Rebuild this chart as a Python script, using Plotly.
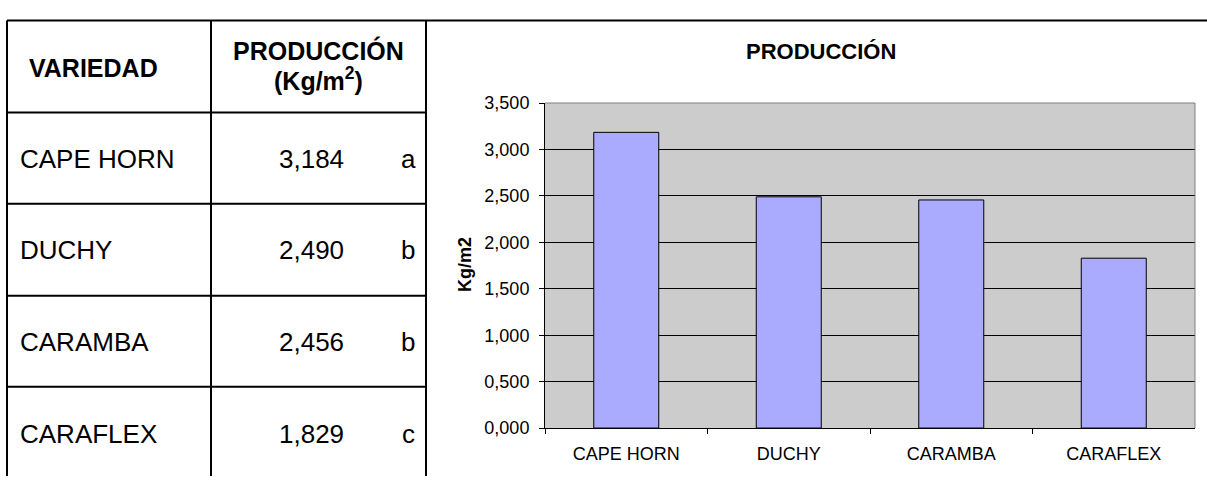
import plotly.graph_objects as go

W, H = 1207, 486

varieties = ["CAPE HORN", "DUCHY", "CARAMBA", "CARAFLEX"]
production = [3.184, 2.490, 2.456, 1.829]
letters = ["a", "b", "b", "c"]
y_ticks = [0, 0.5, 1.0, 1.5, 2.0, 2.5, 3.0, 3.5]

FONT = "Arial, Liberation Sans, sans-serif"


def fx(x):
    return x / W


def fy(y):
    return 1 - y / H


fig = go.Figure(
    go.Bar(
        x=varieties,
        y=production,
        width=0.4,
        marker=dict(color="#AAAAFF", line=dict(color="#000000", width=1)),
    )
)

fig.update_layout(
    width=W,
    height=H,
    margin=dict(l=0, r=0, t=0, b=0),
    paper_bgcolor="white",
    plot_bgcolor="#CCCCCC",
    separators=",.",
    showlegend=False,
    font=dict(family=FONT, color="black"),
    xaxis=dict(
        domain=[fx(545), fx(1195)],
        type="category",
        tickson="boundaries",
        ticks="outside",
        ticklen=5,
        tickcolor="black",
        showline=True,
        linecolor="black",
        linewidth=1,
        showgrid=False,
        tickfont=dict(size=18, family=FONT, color="black"),
        ticklabelstandoff=9,
    ),
    yaxis=dict(
        domain=[fy(436), fy(97)],
        range=[0, 3.5],
        tickvals=y_ticks,
        tickformat=".3f",
        ticks="outside",
        ticklen=5,
        tickcolor="black",
        showline=True,
        linecolor="black",
        linewidth=1,
        showgrid=True,
        gridcolor="#000000",
        gridwidth=1,
        zeroline=False,
        tickfont=dict(size=18, family=FONT, color="black"),
        ticklabelstandoff=6,
    ),
)

shapes = []
# plot area border (top & right, gray)
shapes.append(dict(type="line", xref="paper", yref="paper", x0=fx(545), x1=fx(1195), y0=fy(97), y1=fy(97),
                   line=dict(color="#808080", width=1), layer="above"))
shapes.append(dict(type="line", xref="paper", yref="paper", x0=fx(1195), x1=fx(1195), y0=fy(97), y1=fy(436),
                   line=dict(color="#808080", width=1), layer="above"))

# table lines
tl = dict(color="black", width=2)
shapes.append(dict(type="line", xref="paper", yref="paper", x0=fx(7), x1=fx(1207), y0=fy(11), y1=fy(11), line=tl))
for xv in [7, 211, 426]:
    shapes.append(dict(type="line", xref="paper", yref="paper", x0=fx(xv), x1=fx(xv), y0=fy(11), y1=0, line=tl))
for yv in [107, 202, 298, 393]:
    shapes.append(dict(type="line", xref="paper", yref="paper", x0=fx(7), x1=fx(426), y0=fy(yv), y1=fy(yv), line=tl))

fig.update_layout(shapes=shapes)

ann = []
# chart title and y title
ann.append(dict(text="<b>PRODUCCIÓN</b>", x=fx(821), y=fy(43), xref="paper", yref="paper",
                showarrow=False, font=dict(size=22, family=FONT, color="black"), xanchor="center", yanchor="middle"))
ann.append(dict(text="<b>Kg/m2</b>", x=fx(465), y=fy(266), xref="paper", yref="paper", textangle=-90,
                showarrow=False, font=dict(size=18, family=FONT, color="black"), xanchor="center", yanchor="middle"))

# table header
ann.append(dict(text="<b>VARIEDAD</b>", x=fx(27), y=fy(60), xref="paper", yref="paper",
                showarrow=False, font=dict(size=25, family=FONT, color="black"), xanchor="left", yanchor="middle"))
ann.append(dict(text="<b>PRODUCCIÓN</b>", x=fx(318), y=fy(42), xref="paper", yref="paper",
                showarrow=False, font=dict(size=25, family=FONT, color="black"), xanchor="center", yanchor="middle"))
ann.append(dict(text="<b>(Kg/m<sup>2</sup>)</b>", x=fx(318), y=fy(72), xref="paper", yref="paper",
                showarrow=False, font=dict(size=25, family=FONT, color="black"), xanchor="center", yanchor="middle"))

row_centers = [155, 250, 346, 442]
for name, val, let, yc in zip(varieties, production, letters, row_centers):
    ann.append(dict(text=name, x=fx(18), y=fy(yc), xref="paper", yref="paper",
                    showarrow=False, font=dict(size=26, family=FONT, color="black"), xanchor="left", yanchor="middle"))
    ann.append(dict(text=f"{val:.3f}".replace(".", ","), x=fx(311), y=fy(yc), xref="paper", yref="paper",
                    showarrow=False, font=dict(size=26, family=FONT, color="black"), xanchor="center", yanchor="middle"))
    ann.append(dict(text=let, x=fx(408), y=fy(yc), xref="paper", yref="paper",
                    showarrow=False, font=dict(size=26, family=FONT, color="black"), xanchor="center", yanchor="middle"))

fig.update_layout(annotations=ann)

fig.write_html(
    "out.html",
    config={"displayModeBar": False},
    post_script=(
        "var s=document.documentElement.style;s.margin='0';s.padding='0';s.overflow='hidden';s.height='486px';"
        "var b=document.body.style;b.margin='0';b.padding='0';b.overflow='hidden';b.height='486px';"
    ),
)
